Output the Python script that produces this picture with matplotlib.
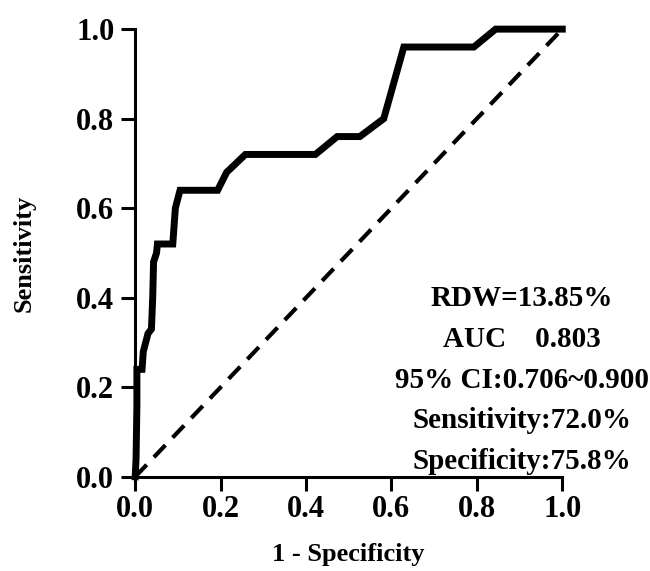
import matplotlib
matplotlib.use("Agg")
import matplotlib.pyplot as plt

# ROC curve points
fpr = [0.0, 0.002, 0.004, 0.004, 0.016, 0.019, 0.030, 0.038, 0.041, 0.043,
       0.050, 0.052, 0.088, 0.094, 0.105, 0.193, 0.214, 0.258, 0.422, 0.473,
       0.526, 0.582, 0.629, 0.793, 0.844, 1.0]
tpr = [0.0, 0.04, 0.16, 0.24, 0.24, 0.28, 0.32, 0.33, 0.40, 0.48,
       0.50, 0.52, 0.52, 0.60, 0.64, 0.64, 0.68, 0.72, 0.72, 0.76,
       0.76, 0.80, 0.96, 0.96, 1.0, 1.0]

ticks = [0.0, 0.2, 0.4, 0.6, 0.8, 1.0]
tick_labels = ["0.0", "0.2", "0.4", "0.6", "0.8", "1.0"]

info = "RDW=13.85%\nAUC    0.803\n95% CI:0.706~0.900\nSensitivity:72.0%\nSpecificity:75.8%"

plt.rcParams['font.family'] = ['Liberation Serif', 'DejaVu Serif']
plt.rcParams['font.weight'] = 'bold'

fig = plt.figure(figsize=(6.5, 5.71), dpi=100)
ax = fig.add_axes([0.208, 0.165, 0.657, 0.784])

ax.plot([0, 1], [0, 1], color='black', lw=3, dashes=(4, 2.5), clip_on=False)
ax.plot(fpr, tpr, color='black', lw=5, solid_joinstyle='miter', clip_on=False)

ax.set_xlim(0, 1)
ax.set_ylim(0, 1)
ax.set_xticks(ticks)
ax.set_xticklabels(tick_labels)
ax.set_yticks(ticks)
ax.set_yticklabels(tick_labels)

for s in ['top', 'right']:
    ax.spines[s].set_visible(False)
for s in ['left', 'bottom']:
    ax.spines[s].set_linewidth(2.2)

ax.tick_params(axis='both', direction='out', length=10, width=2.2,
               labelsize=22)
ax.tick_params(axis='x', pad=3)
ax.tick_params(axis='y', pad=5)
for lab in ax.get_xticklabels() + ax.get_yticklabels():
    lab.set_fontweight('bold')

ax.set_xlabel("1 - Specificity", fontsize=19, fontweight='bold', labelpad=14)
ax.set_ylabel("Sensitivity", fontsize=19, fontweight='bold', labelpad=29)

ax.text(0.905, 0.216, info, transform=ax.transAxes, ha='center', va='center',
        multialignment='center', fontsize=21, fontweight='bold',
        linespacing=1.65)

fig.savefig("out.png", dpi=100)
